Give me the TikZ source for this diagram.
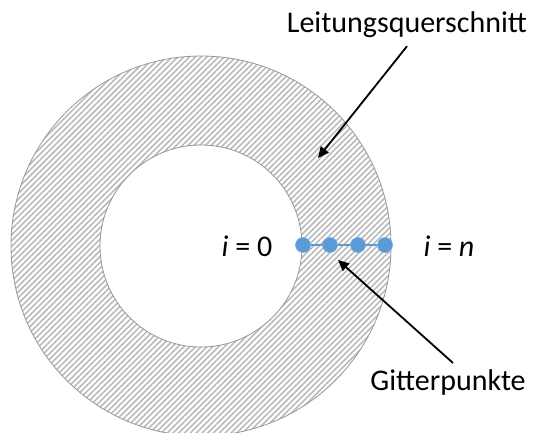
\documentclass[tikz,border=0pt]{standalone}
\usepackage{fontspec}
\setmainfont{Carlito}
\usetikzlibrary{patterns.meta,arrows.meta}
\definecolor{dotblue}{HTML}{5B9BD5}
\definecolor{rimgray}{HTML}{8E99A8}
\tikzset{
  ring/.style={draw=rimgray, line width=0.8pt, even odd rule,
    pattern={Lines[angle=45,distance=4.1pt,line width=1.6pt]}, pattern color=black!27},
  gridpt/.style={circle, fill=dotblue, draw=dotblue!85!white, line width=0.6pt, inner sep=0pt, minimum size=15pt},
  gridline/.style={draw=dotblue, line width=1.5pt},
  txt/.style={font=\fontsize{30}{34}\selectfont, inner sep=0pt},
  pointer/.style={-{Triangle[length=11pt,width=10pt]}, line width=1.8pt, draw=black},
}

\begin{document}
\begin{tikzpicture}[x=1pt, y=-1pt]
\useasboundingbox (0,0) rectangle (536,432);
% conductor cross section
\path[ring] (201,246) circle (190) (201,246) circle (101);
% grid points
\node[gridpt] (g0) at (303,245) {};
\node[gridpt] (g1) at (330,245) {};
\node[gridpt] (g2) at (358,245) {};
\node[gridpt] (g3) at (385,245) {};
\draw[gridline] (g0) -- (g1) -- (g2) -- (g3);
% labels
\node[txt] (izero) at (247,246) {\textit{i} = 0};
\node[txt] (ilast) at (449,246) {\textit{i} = \textit{n}};
\node[txt] (quer) at (407,25) {Leitungsquerschnitt};
\node[txt] (gitter) at (448,382) {Gitterpunkte};
% pointers
\coordinate (qtip) at (318,158);
\coordinate (gtip) at (338,260);
\draw[pointer] ([yshift=-8pt]quer.south) -- (qtip);
\draw[pointer] ([xshift=5pt,yshift=6pt]gitter.north) -- (gtip);
\end{tikzpicture}
\end{document}
